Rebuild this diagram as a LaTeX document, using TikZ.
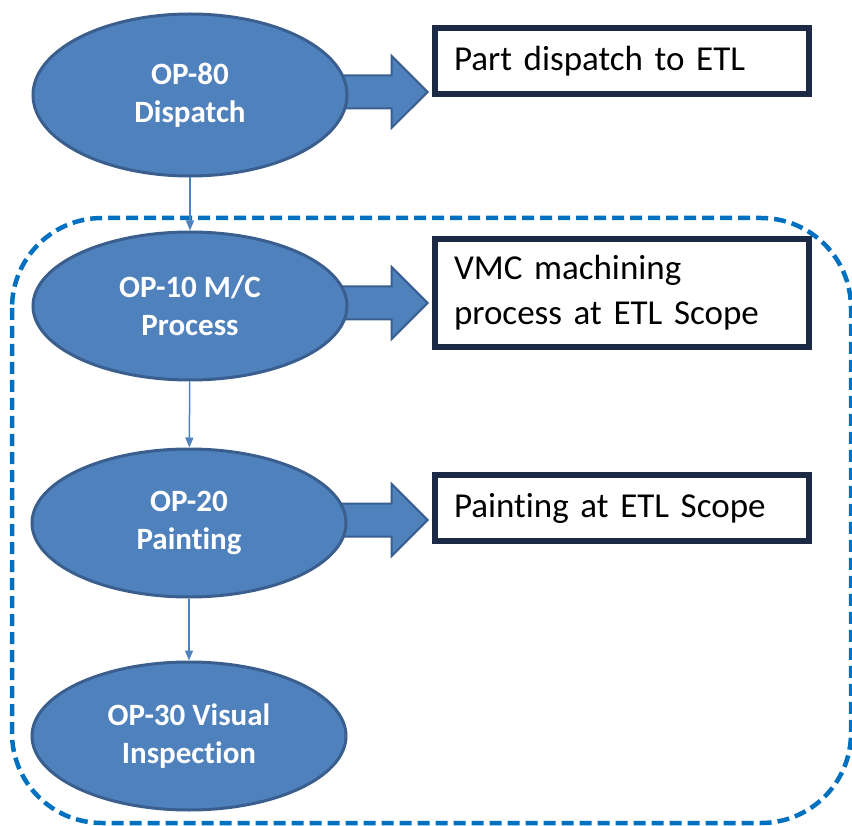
\documentclass[tikz,border=0pt]{standalone}
\usepackage{fontspec}
\setmainfont{Carlito}[Ligatures=CommonOff]
\usetikzlibrary{shapes.geometric, shapes.arrows, arrows.meta, backgrounds}
\definecolor{opblue}{HTML}{4F81BD}
\definecolor{opedge}{HTML}{3A5F8E}
\definecolor{boxedge}{HTML}{1C2A45}
\definecolor{scopeblue}{HTML}{0070C0}
\tikzset{>={Triangle[length=10pt,width=8pt]}}
\tikzset{
  opnode/.style={ellipse, draw=opedge, fill=opblue, line width=3pt, minimum width=314pt, minimum height=148pt, inner sep=0pt, text=white, align=center, font=\bfseries\fontsize{31}{38}\selectfont},
  scopebox/.style={rectangle, draw=boxedge, line width=6pt, fill=white, text width=336pt, inner xsep=19pt, minimum height=66pt, align=left, font=\fontsize{35}{45}\selectfont},
  blockarrow/.style={single arrow, draw=opedge, fill=opblue, line width=2pt, inner sep=0pt, inner ysep=15.5pt, minimum height=95pt, single arrow head extend=19.5pt, single arrow tip angle=90, anchor=tip, xshift=-3pt, yshift=3pt},
  flowline/.style={->, draw=opblue, line width=1.5pt},
  scopeframe/.style={draw=scopeblue, line width=4.5pt, dash pattern=on 12pt off 6pt, rounded corners=90pt}
}
\begin{document}
\begin{tikzpicture}[x=1pt, y=-1pt]
\useasboundingbox (0,0) rectangle (852,826);
\draw[scopeframe] (12,218) rectangle (851,823);
\node[opnode, minimum height=162pt] (op80) at (190,95) {OP-80\\Dispatch};
\node[opnode] (op10) at (190,306) {OP-10 M/C\\Process};
\node[opnode] (op20) at (189,523) {OP-20\\Painting};
\node[opnode] (op30) at (189,736) {OP-30 Visual\\Inspection};
\node[scopebox] (box80) at (622,61) {Part dispatch to ETL};
\node[scopebox, minimum height=108pt] (box10) at (622,293) {VMC machining\\process at ETL Scope};
\node[scopebox] (box20) at (622,508) {Painting at ETL Scope};
\begin{scope}[on background layer]
\node[blockarrow] (ar80) at (box80.west |- op80) {};
\node[blockarrow] (ar10) at (box10.west |- op10) {};
\node[blockarrow] (ar20) at (box20.west |- op20) {};
\end{scope}
\draw[flowline] (op80) -- (op10);
\draw[flowline] (op10) -- (op20);
\draw[flowline] (op20) -- (op30);
\end{tikzpicture}
\end{document}
